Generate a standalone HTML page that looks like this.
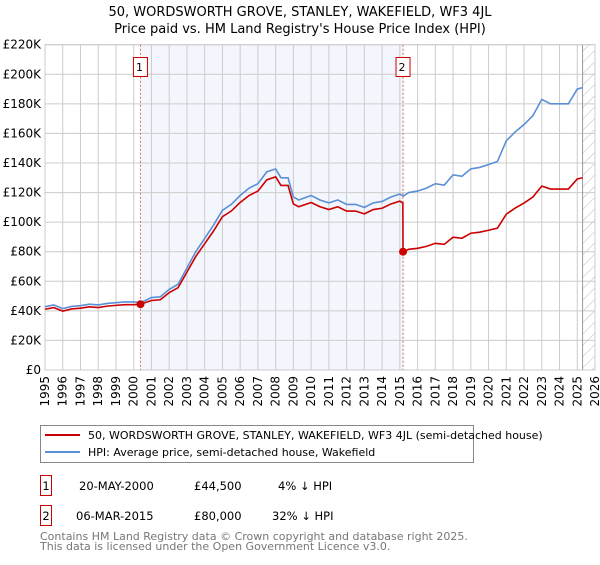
<!DOCTYPE html>
<html><head><meta charset="utf-8"><style>
body{margin:0;background:#fff;font-family:"Liberation Sans","DejaVu Sans",sans-serif;}
svg text{font-family:"DejaVu Sans","Liberation Sans",sans-serif;}
</style></head><body>
<svg id="c" width="600" height="560" xmlns="http://www.w3.org/2000/svg">
<defs><pattern id="h" width="8" height="8" patternUnits="userSpaceOnUse" patternTransform="rotate(45)"><line x1="0" y1="0" x2="0" y2="8" stroke="#bbb" stroke-width="1"/></pattern></defs>
<text x="300" y="16" text-anchor="middle" font-size="13">50, WORDSWORTH GROVE, STANLEY, WAKEFIELD, WF3 4JL</text>
<text x="300" y="33" text-anchor="middle" font-size="13">Price paid vs. HM Land Registry's House Price Index (HPI)</text>
<g id="plot"></g>
<g>
<rect x="40.5" y="425.5" width="433" height="37" fill="#fff" stroke="#888"/>
<line x1="45" y1="435" x2="80" y2="435" stroke="#cc0000" stroke-width="2"/>
<text x="88" y="439" font-size="11">50, WORDSWORTH GROVE, STANLEY, WAKEFIELD, WF3 4JL (semi-detached house)</text>
<line x1="45" y1="452" x2="80" y2="452" stroke="#5b8fd6" stroke-width="2"/>
<text x="88" y="456" font-size="11">HPI: Average price, semi-detached house, Wakefield</text>
</g>
<g font-size="11.5">
<rect x="40.5" y="475.5" width="11" height="20" fill="#fff" stroke="#cc0000"/>
<text x="46" y="490" text-anchor="middle">1</text>
<text x="79" y="490">20-MAY-2000</text><text x="194" y="490">£44,500</text><text x="278" y="490">4% ↓ HPI</text>
<rect x="40.5" y="505.5" width="11" height="20" fill="#fff" stroke="#cc0000"/>
<text x="46" y="520" text-anchor="middle">2</text>
<text x="76" y="520">06-MAR-2015</text><text x="194" y="520">£80,000</text><text x="272" y="520">32% ↓ HPI</text>
</g>
<text x="40" y="540" font-size="11" fill="#777">Contains HM Land Registry data © Crown copyright and database right 2025.</text>
<text x="40" y="550" font-size="11" fill="#777">This data is licensed under the Open Government Licence v3.0.</text>
</svg>
<script>
const hpiYears=[1995,1995.5,1996,1996.5,1997,1997.5,1998,1998.5,1999,1999.5,2000,2000.4,2001,2001.5,2002,2002.5,2003,2003.5,2004,2004.5,2005,2005.5,2006,2006.5,2007,2007.5,2008,2008.3,2008.7,2009,2009.3,2010,2010.5,2011,2011.5,2012,2012.5,2013,2013.5,2014,2014.5,2015,2015.2,2015.5,2016,2016.5,2017,2017.5,2018,2018.5,2019,2019.5,2020,2020.5,2021,2021.5,2022,2022.5,2023,2023.5,2024,2024.5,2025,2025.3];
const hpiValues=[42.8,44,41.5,43,43.5,44.5,44,45,45.5,46,46,45.5,49,49.5,54.5,58,69,80,89,98,108,112,118,123,126,134,136,130,130,117,115,118,115,113,115,112,112,110,113,114,117,119,117.6,120,121,123,126,125,132,131,136,137,139,141,155,161,166,172,183,180,180,180,190,191];
const propYears=[1995,1995.5,1996,1996.5,1997,1997.5,1998,1998.5,1999,1999.5,2000,2000.38,2001,2001.5,2002,2002.5,2003,2003.5,2004,2004.5,2005,2005.5,2006,2006.5,2007,2007.5,2008,2008.3,2008.7,2009,2009.3,2010,2010.5,2011,2011.5,2012,2012.5,2013,2013.5,2014,2014.5,2015,2015.17,2015.18,2015.5,2016,2016.5,2017,2017.5,2018,2018.5,2019,2019.5,2020,2020.5,2021,2021.5,2022,2022.5,2023,2023.5,2024,2024.5,2025,2025.3];
const propValues=[41.1,42.2,39.8,41.3,41.8,42.7,42.2,43.2,43.7,44.2,44.2,44.5,47,47.5,52.3,55.7,66.2,76.8,85.4,94,103.7,107.5,113.3,118,121,128.6,130.6,124.8,124.8,112.3,110.4,113.3,110.4,108.5,110.4,107.5,107.5,105.6,108.5,109.4,112.3,114.2,113,80,81.6,82.3,83.6,85.7,85,89.8,89.1,92.5,93.2,94.5,95.9,105.4,109.5,112.9,117,124.4,122.4,122.4,122.4,129.2,130];
const yTicks=[0,20,40,60,80,100,120,140,160,180,200,220];
const xTicks=[1995,1996,1997,1998,1999,2000,2001,2002,2003,2004,2005,2006,2007,2008,2009,2010,2011,2012,2013,2014,2015,2016,2017,2018,2019,2020,2021,2022,2023,2024,2025,2026];
const saleYears=[2000.38,2015.18];
const saleValues=[44.5,80];
const saleLabels=["1","2"];
const X0=45,X1=595,Y0=370,Y1=44.7;
const xs=y=>X0+(y-1995)/(2026-1995)*(X1-X0);
const ys=v=>Y0-v/220*(Y0-Y1);
const NS="http://www.w3.org/2000/svg";
const g=document.getElementById('plot');
function mk(t,a,p){const e=document.createElementNS(NS,t);for(const k in a)e.setAttribute(k,a[k]);(p||g).appendChild(e);return e;}
let r=mk('rect',{x:xs(saleYears[0]),y:Y1,width:xs(saleYears[1])-xs(saleYears[0]),height:Y0-Y1,fill:'#f3f6fd'});


let hz=mk('rect',{x:xs(2025.3),y:Y1,width:X1-xs(2025.3),height:Y0-Y1,fill:'url(#h)'});


yTicks.forEach(v=>{
 const l=mk('line',{x1:X0,x2:X1,y1:ys(v),y2:ys(v),stroke:'#ccc'});
 
 
 const t=mk('text',{x:X0-4,y:ys(v)+4,'text-anchor':'end','font-size':'12'});
 t.textContent='£'+(v?v+'K':'0');
 
 
});
xTicks.forEach(y=>{
 const l=mk('line',{x1:xs(y),x2:xs(y),y1:Y1,y2:Y0,stroke:'#ccc'});
 
 
 const t=mk('text',{x:0,y:0,'text-anchor':'end','font-size':'12',transform:`translate(${xs(y)+4},${Y0+6}) rotate(-90)`});
 t.textContent=y;
 
 
});
let bd=mk('rect',{x:X0,y:Y1,width:X1-X0,height:Y0-Y1,fill:'none',stroke:'#ccc'});


let nl=mk('line',{x1:xs(2025.3),x2:xs(2025.3),y1:Y1,y2:Y0,stroke:'#999'});


saleYears.forEach((y,i)=>{
 const l=mk('line',{x1:xs(y),x2:xs(y),y1:Y1,y2:Y0,stroke:'#e06666','stroke-dasharray':'2,2'});
 
 
 const b=mk('rect',{x:xs(y)-7,y:57.5,width:14,height:19,fill:'#fff',stroke:'#cc0000'});
 
 
 const t=mk('text',{x:xs(y)-1,y:71,'text-anchor':'middle','font-size':'11'});
 t.textContent=saleLabels[i];
 
 
});
const hp=mk('polyline',{points:hpiYears.map((y,i)=>xs(y)+','+ys(hpiValues[i])).join(' '),fill:'none',stroke:'#5b8fd6','stroke-width':'1.6'});


const pp=mk('polyline',{points:propYears.map((y,i)=>xs(y)+','+ys(propValues[i])).join(' '),fill:'none',stroke:'#cc0000','stroke-width':'1.6'});


saleYears.forEach((y,i)=>{
 const c=mk('circle',{cx:xs(y),cy:ys(saleValues[i]),r:4,fill:'#cc0000'});
 
 
});
</script>
</body></html>
